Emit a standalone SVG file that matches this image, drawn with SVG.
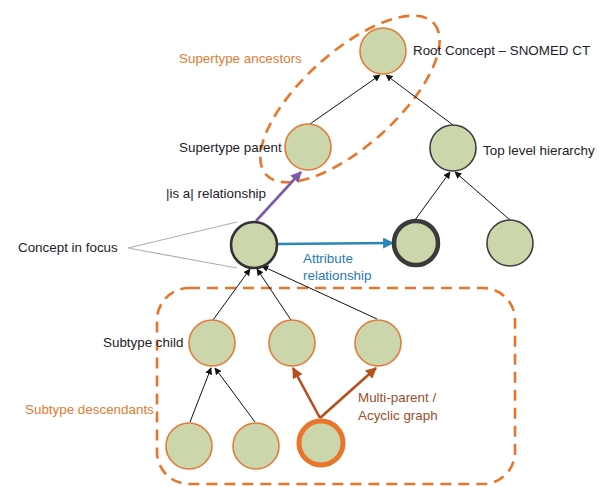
<svg xmlns="http://www.w3.org/2000/svg" width="599" height="487" viewBox="0 0 599 487">
  <defs>
    <marker id="ah-black" viewBox="0 0 10 10" refX="9" refY="5" markerWidth="7" markerHeight="7" orient="auto" markerUnits="userSpaceOnUse">
      <path d="M0,0 L10,5 L0,10 z" fill="#111"/>
    </marker>
    <marker id="ah-purple" viewBox="0 0 10 10" refX="9" refY="5" markerWidth="11" markerHeight="11" orient="auto" markerUnits="userSpaceOnUse">
      <path d="M0,0 L10,5 L0,10 z" fill="#7b5ba8"/>
    </marker>
    <marker id="ah-blue" viewBox="0 0 10 10" refX="9" refY="5" markerWidth="11" markerHeight="11" orient="auto" markerUnits="userSpaceOnUse">
      <path d="M0,0 L10,5 L0,10 z" fill="#2a86b8"/>
    </marker>
    <marker id="ah-brown" viewBox="0 0 10 10" refX="9" refY="5" markerWidth="11" markerHeight="11" orient="auto" markerUnits="userSpaceOnUse">
      <path d="M0,0 L10,5 L0,10 z" fill="#b4501a"/>
    </marker>
    <style>
      text { font-family: "Liberation Sans", Arial, sans-serif; font-size: 13.4px; fill: #1e2128; }
      .orange-t { fill: #e07a35; }
      .blue-t { fill: #2a7ab0; }
      .brown-t { fill: #9a4e2a; }
      .node { fill: #cbd6aa; }
      .o { stroke: #e27b3a; stroke-width: 1.6; }
      .d { stroke: #3d3d3d; stroke-width: 1.6; }
      .group-line { fill: none; stroke: #e8752a; stroke-width: 2.6; stroke-dasharray: 11 7; }
      .edge { stroke: #111; stroke-width: 1; fill: none; marker-end: url(#ah-black); }
    </style>
  </defs>

  <!-- dashed groupings -->
  <ellipse class="group-line" cx="350" cy="99" rx="113" ry="47" transform="rotate(-42 350 99)"/>
  <rect class="group-line" x="157" y="288" width="358" height="196" rx="32" ry="32"/>

  <!-- connectors -->
  <g id="connectors">
    <line class="edge" x1="310" y1="124" x2="380" y2="75"/>
    <line class="edge" x1="453" y1="125" x2="386" y2="75"/>
    <line class="edge" x1="415" y1="220" x2="450" y2="172"/>
    <line class="edge" x1="510" y1="220" x2="455" y2="172"/>
    <line class="edge" x1="213" y1="320" x2="250" y2="269"/>
    <line class="edge" x1="291" y1="320" x2="257" y2="269"/>
    <line class="edge" x1="377" y1="319" x2="262" y2="266"/>
    <line class="edge" x1="190" y1="422" x2="211" y2="368"/>
    <line class="edge" x1="255" y1="422" x2="215" y2="368"/>
    <line x1="256" y1="221" x2="301" y2="172" stroke="#7b5ba8" stroke-width="2.6" marker-end="url(#ah-purple)"/>
    <line x1="278" y1="244" x2="393" y2="243" stroke="#2a86b8" stroke-width="2.6" marker-end="url(#ah-blue)"/>
    <line x1="320" y1="418" x2="293" y2="368" stroke="#b4501a" stroke-width="2.6" marker-end="url(#ah-brown)"/>
    <line x1="320" y1="418" x2="376" y2="368" stroke="#b4501a" stroke-width="2.6" marker-end="url(#ah-brown)"/>
    <!-- callout for concept in focus -->
    <polyline points="237,222 128,248 237,268" fill="none" stroke="#b0b0b0" stroke-width="1.2"/>
  </g>

  <!-- nodes -->
  <g id="root-concept"><circle class="node o" cx="383" cy="51" r="23"/><text x="413" y="55">Root Concept – SNOMED CT</text></g>
  <g id="supertype-parent"><circle class="node o" cx="308" cy="147" r="23"/><text x="179" y="152">Supertype parent</text></g>
  <g id="top-level-hierarchy"><circle class="node d" cx="453" cy="148" r="23"/><text x="483" y="155">Top level hierarchy</text></g>
  <g id="attribute-target"><circle class="node" cx="416" cy="243" r="22" stroke="#3a3a3a" stroke-width="4.5"/></g>
  <g id="top-level-child"><circle class="node d" cx="510" cy="243" r="23"/></g>
  <g id="concept-in-focus"><circle class="node" cx="254" cy="245" r="23" stroke="#333" stroke-width="2.6"/><text x="18" y="252">Concept in focus</text></g>
  <g id="subtype-child"><circle class="node o" cx="212" cy="343" r="23"/><text x="103" y="347">Subtype child</text></g>
  <g id="subtype-child-2"><circle class="node o" cx="292" cy="343" r="23"/></g>
  <g id="subtype-child-3"><circle class="node o" cx="378" cy="343" r="23"/></g>
  <g id="descendant-1"><circle class="node o" cx="189" cy="446" r="23"/></g>
  <g id="descendant-2"><circle class="node o" cx="256" cy="446" r="23"/></g>
  <g id="multi-parent-node"><circle class="node" cx="321" cy="443" r="22" stroke="#e8752a" stroke-width="5"/></g>

  <!-- labels -->
  <text class="orange-t" x="179" y="63">Supertype ancestors</text>
  <text x="166" y="198">|is a| relationship</text>
  <text class="blue-t" x="303" y="263">Attribute</text>
  <text class="blue-t" x="303" y="280">relationship</text>
  <text class="orange-t" x="25" y="414">Subtype descendants</text>
  <text class="brown-t" x="358" y="402">Multi-parent /</text>
  <text class="brown-t" x="358" y="420">Acyclic graph</text>
</svg>
